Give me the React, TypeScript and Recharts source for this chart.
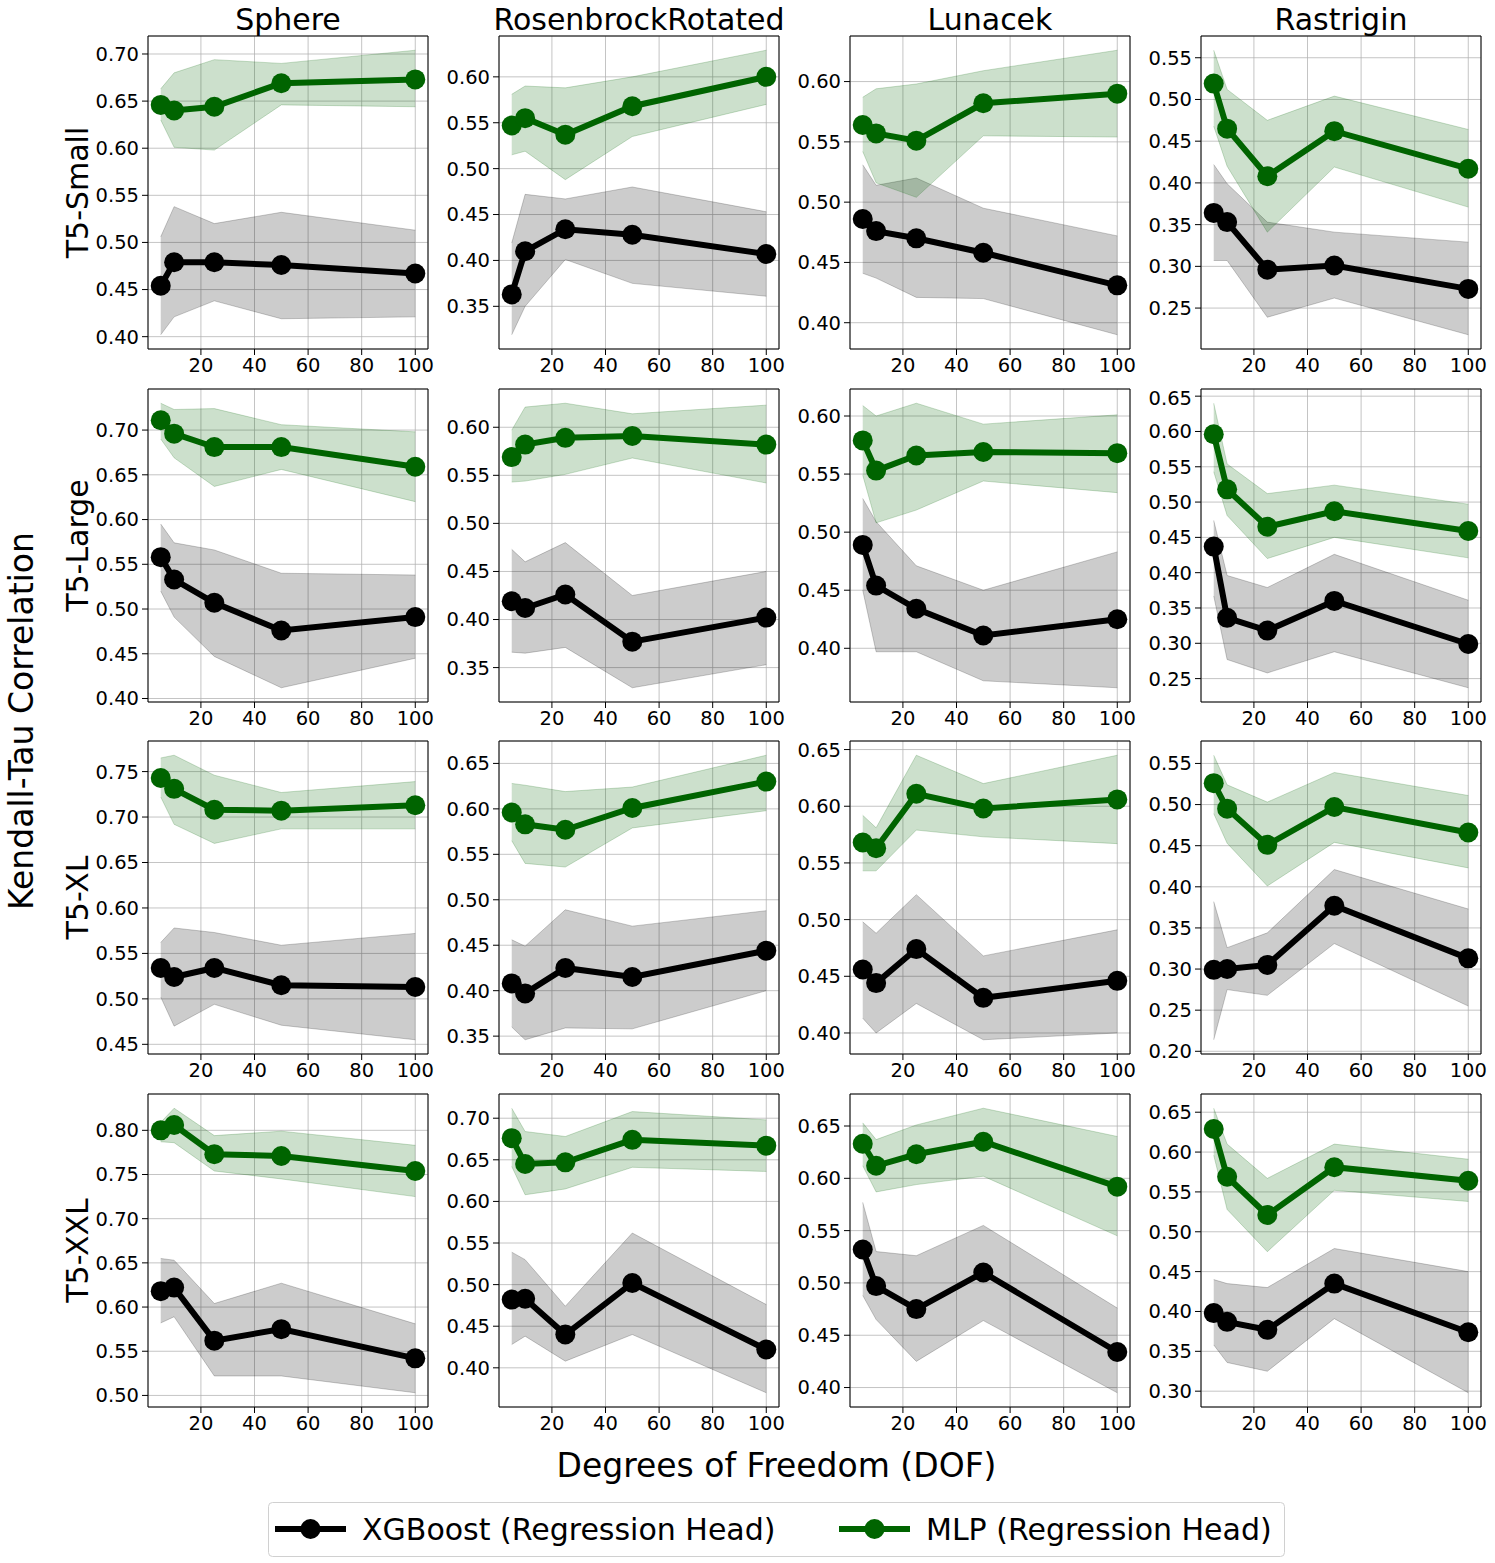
import React from "react";
import { ComposedChart, Area, Line, XAxis, YAxis, CartesianGrid, ReferenceLine } from "recharts";

const FUNCTIONS = ["Sphere", "RosenbrockRotated", "Lunacek", "Rastrigin"];
const MODELS = ["T5-Small", "T5-Large", "T5-XL", "T5-XXL"];
const DOF = [5, 10, 25, 50, 100];
const X_TICKS = [20, 40, 60, 80, 100];

// [model row][function col] -> values at each DOF
const XGB_MEAN = [
  [[0.454, 0.479, 0.479, 0.476, 0.467], [0.363, 0.41, 0.434, 0.428, 0.407], [0.486, 0.476, 0.47, 0.458, 0.431], [0.364, 0.353, 0.296, 0.301, 0.273]],
  [[0.558, 0.533, 0.507, 0.476, 0.491], [0.419, 0.412, 0.426, 0.377, 0.402], [0.489, 0.454, 0.434, 0.411, 0.425], [0.437, 0.336, 0.318, 0.36, 0.299]],
  [[0.534, 0.524, 0.534, 0.515, 0.513], [0.408, 0.397, 0.425, 0.415, 0.444], [0.456, 0.444, 0.474, 0.431, 0.446], [0.299, 0.3, 0.305, 0.377, 0.313]],
  [[0.618, 0.622, 0.562, 0.575, 0.542], [0.482, 0.483, 0.44, 0.502, 0.422], [0.532, 0.497, 0.475, 0.51, 0.434], [0.398, 0.387, 0.377, 0.435, 0.374]],
];
const XGB_LOW = [
  [[0.402, 0.421, 0.438, 0.419, 0.421], [0.319, 0.35, 0.401, 0.375, 0.361], [0.441, 0.437, 0.421, 0.42, 0.39], [0.307, 0.307, 0.239, 0.262, 0.218]],
  [[0.52, 0.491, 0.447, 0.412, 0.445], [0.366, 0.365, 0.371, 0.329, 0.353], [0.45, 0.397, 0.397, 0.372, 0.366], [0.367, 0.277, 0.258, 0.288, 0.237]],
  [[0.502, 0.47, 0.494, 0.471, 0.455], [0.36, 0.346, 0.359, 0.358, 0.4], [0.413, 0.4, 0.426, 0.394, 0.4], [0.214, 0.275, 0.268, 0.331, 0.255]],
  [[0.582, 0.589, 0.522, 0.522, 0.503], [0.428, 0.438, 0.408, 0.44, 0.37], [0.488, 0.465, 0.425, 0.464, 0.395], [0.358, 0.336, 0.325, 0.391, 0.298]],
];
const XGB_HIGH = [
  [[0.506, 0.538, 0.52, 0.532, 0.513], [0.419, 0.472, 0.467, 0.48, 0.453], [0.531, 0.514, 0.52, 0.495, 0.472], [0.422, 0.399, 0.353, 0.341, 0.329]],
  [[0.595, 0.574, 0.566, 0.54, 0.538], [0.473, 0.46, 0.48, 0.425, 0.45], [0.529, 0.509, 0.471, 0.45, 0.483], [0.474, 0.396, 0.379, 0.426, 0.361]],
  [[0.562, 0.578, 0.573, 0.559, 0.572], [0.456, 0.449, 0.489, 0.471, 0.488], [0.498, 0.488, 0.522, 0.468, 0.491], [0.382, 0.326, 0.344, 0.421, 0.373]],
  [[0.655, 0.653, 0.604, 0.627, 0.581], [0.539, 0.53, 0.474, 0.562, 0.476], [0.577, 0.53, 0.526, 0.555, 0.476], [0.44, 0.435, 0.43, 0.479, 0.45]],
];
const MLP_MEAN = [
  [[0.646, 0.64, 0.644, 0.669, 0.673], [0.547, 0.555, 0.537, 0.568, 0.6], [0.564, 0.557, 0.551, 0.582, 0.59], [0.519, 0.465, 0.408, 0.462, 0.417]],
  [[0.711, 0.696, 0.681, 0.681, 0.659], [0.569, 0.582, 0.589, 0.591, 0.582], [0.579, 0.553, 0.566, 0.569, 0.568], [0.596, 0.518, 0.465, 0.487, 0.459]],
  [[0.743, 0.731, 0.708, 0.707, 0.713], [0.596, 0.583, 0.577, 0.601, 0.63], [0.568, 0.563, 0.611, 0.598, 0.606], [0.526, 0.495, 0.451, 0.497, 0.466]],
  [[0.8, 0.806, 0.773, 0.771, 0.754], [0.676, 0.645, 0.647, 0.674, 0.667], [0.633, 0.612, 0.623, 0.635, 0.592], [0.629, 0.569, 0.521, 0.581, 0.564]],
];
const MLP_LOW = [
  [[0.63, 0.601, 0.598, 0.646, 0.644], [0.515, 0.519, 0.488, 0.535, 0.57], [0.542, 0.516, 0.504, 0.555, 0.554], [0.468, 0.42, 0.341, 0.419, 0.371]],
  [[0.69, 0.669, 0.637, 0.656, 0.62], [0.543, 0.544, 0.551, 0.568, 0.542], [0.549, 0.508, 0.519, 0.544, 0.534], [0.543, 0.481, 0.42, 0.45, 0.421]],
  [[0.722, 0.692, 0.671, 0.687, 0.687], [0.565, 0.54, 0.536, 0.579, 0.598], [0.543, 0.543, 0.579, 0.573, 0.567], [0.489, 0.453, 0.401, 0.454, 0.423]],
  [[0.787, 0.786, 0.754, 0.745, 0.725], [0.642, 0.608, 0.615, 0.641, 0.636], [0.612, 0.587, 0.594, 0.602, 0.545], [0.596, 0.528, 0.475, 0.552, 0.538]],
];
const MLP_HIGH = [
  [[0.663, 0.68, 0.694, 0.69, 0.704], [0.581, 0.59, 0.588, 0.6, 0.629], [0.587, 0.594, 0.598, 0.609, 0.626], [0.559, 0.512, 0.475, 0.504, 0.464]],
  [[0.73, 0.723, 0.724, 0.706, 0.698], [0.597, 0.621, 0.625, 0.614, 0.623], [0.609, 0.6, 0.611, 0.593, 0.601], [0.64, 0.554, 0.512, 0.524, 0.497]],
  [[0.765, 0.768, 0.746, 0.727, 0.739], [0.628, 0.626, 0.619, 0.624, 0.659], [0.592, 0.581, 0.645, 0.62, 0.645], [0.56, 0.524, 0.503, 0.539, 0.511]],
  [[0.809, 0.825, 0.794, 0.799, 0.783], [0.712, 0.684, 0.678, 0.708, 0.698], [0.653, 0.637, 0.651, 0.667, 0.64], [0.655, 0.61, 0.567, 0.61, 0.591]],
];

const Y_TICKS = [
  [[0.4, 0.45, 0.5, 0.55, 0.6, 0.65, 0.7], [0.35, 0.4, 0.45, 0.5, 0.55, 0.6], [0.4, 0.45, 0.5, 0.55, 0.6], [0.25, 0.3, 0.35, 0.4, 0.45, 0.5, 0.55]],
  [[0.4, 0.45, 0.5, 0.55, 0.6, 0.65, 0.7], [0.35, 0.4, 0.45, 0.5, 0.55, 0.6], [0.4, 0.45, 0.5, 0.55, 0.6], [0.25, 0.3, 0.35, 0.4, 0.45, 0.5, 0.55, 0.6, 0.65]],
  [[0.45, 0.5, 0.55, 0.6, 0.65, 0.7, 0.75], [0.35, 0.4, 0.45, 0.5, 0.55, 0.6, 0.65], [0.4, 0.45, 0.5, 0.55, 0.6, 0.65], [0.2, 0.25, 0.3, 0.35, 0.4, 0.45, 0.5, 0.55]],
  [[0.5, 0.55, 0.6, 0.65, 0.7, 0.75, 0.8], [0.4, 0.45, 0.5, 0.55, 0.6, 0.65, 0.7], [0.4, 0.45, 0.5, 0.55, 0.6, 0.65], [0.3, 0.35, 0.4, 0.45, 0.5, 0.55, 0.6, 0.65]],
];

const FONT = "'DejaVu Sans', sans-serif";
const XGB_COLOR = "#000000";
const MLP_COLOR = "#006400";
const PLOT_W = 280;
const PLOT_H = 313;
const Y_AXIS_W = 80;
const X_AXIS_H = 40;
const PAD = 2;
const PAD_RIGHT = 30;
const COL_X = [148, 499, 850, 1201];
const ROW_Y = [36, 389, 741, 1094];

// matplotlib-style 5% margins
const X_DOMAIN = [DOF[0] - 0.05 * (DOF[4] - DOF[0]), DOF[4] + 0.05 * (DOF[4] - DOF[0])];

function yDomain(r: number, c: number) {
  const all = [...XGB_LOW[r][c], ...XGB_HIGH[r][c], ...MLP_LOW[r][c], ...MLP_HIGH[r][c], ...XGB_MEAN[r][c], ...MLP_MEAN[r][c]];
  const lo = Math.min(...all);
  const hi = Math.max(...all);
  const m = (hi - lo) * 0.05;
  return [lo - m, hi + m];
}

function Panel({ r, c }: { r: number; c: number }) {
  const rows = DOF.map((d, i) => ({
    dof: d,
    xgb: XGB_MEAN[r][c][i],
    xgbBand: [XGB_LOW[r][c][i], XGB_HIGH[r][c][i]],
    mlp: MLP_MEAN[r][c][i],
    mlpBand: [MLP_LOW[r][c][i], MLP_HIGH[r][c][i]],
  }));
  const dom = yDomain(r, c);
  const tickStyle = { fontSize: 19.5, fill: "#000", fontFamily: FONT };
  return (
    <div style={{ position: "absolute", left: COL_X[c] - Y_AXIS_W, top: ROW_Y[r] - PAD }}>
      <ComposedChart
        width={Y_AXIS_W + PLOT_W + PAD_RIGHT}
        height={PAD + PLOT_H + X_AXIS_H}
        data={rows}
        margin={{ top: PAD, right: PAD_RIGHT, left: 0, bottom: 0 }}
      >
        <CartesianGrid stroke="#b0b0b0" strokeOpacity={0.75} strokeWidth={1} />
        <XAxis
          type="number"
          dataKey="dof"
          domain={X_DOMAIN}
          ticks={X_TICKS}
          allowDataOverflow
          height={X_AXIS_H}
          tickSize={6}
          tickMargin={3}
          tick={tickStyle}
          stroke="#000"
        />
        <YAxis
          type="number"
          domain={dom}
          ticks={Y_TICKS[r][c]}
          allowDataOverflow
          width={Y_AXIS_W}
          tickSize={6}
          tickMargin={3}
          tick={tickStyle}
          tickFormatter={(v: number) => v.toFixed(2)}
          stroke="#000"
        />
        <Area type="linear" dataKey="xgbBand" fill={XGB_COLOR} fillOpacity={0.2} stroke={XGB_COLOR} strokeOpacity={0.2} strokeWidth={1} dot={false} activeDot={false} isAnimationActive={false} />
        <Area type="linear" dataKey="mlpBand" fill={MLP_COLOR} fillOpacity={0.2} stroke={MLP_COLOR} strokeOpacity={0.2} strokeWidth={1} dot={false} activeDot={false} isAnimationActive={false} />
        <Line type="linear" dataKey="xgb" stroke={XGB_COLOR} strokeWidth={6} dot={{ r: 10, fill: XGB_COLOR, stroke: "none" }} activeDot={false} isAnimationActive={false} />
        <Line type="linear" dataKey="mlp" stroke={MLP_COLOR} strokeWidth={6} dot={{ r: 10, fill: MLP_COLOR, stroke: "none" }} activeDot={false} isAnimationActive={false} />
        <ReferenceLine x={X_DOMAIN[1]} stroke="#000" strokeWidth={1} />
        <ReferenceLine y={dom[1]} stroke="#000" strokeWidth={1} />
      </ComposedChart>
    </div>
  );
}

function LegendItem({ x, color, label }: { x: number; color: string; label: string }) {
  return (
    <g>
      <line x1={x} y1={1529} x2={x + 71} y2={1529} stroke={color} strokeWidth={6} />
      <circle cx={x + 35.5} cy={1529} r={10} fill={color} />
      <text x={x + 87} y={1540} fontSize={30} fontFamily={FONT} fill="#000">{label}</text>
    </g>
  );
}

export default function App() {
  return (
    <div style={{ position: "absolute", left: 0, top: 0, width: 1495, height: 1563, background: "#fff" }}>
      {MODELS.map((_, r) => FUNCTIONS.map((__, c) => <Panel key={`${r}-${c}`} r={r} c={c} />))}
      <svg width={1495} height={1563} style={{ position: "absolute", left: 0, top: 0, pointerEvents: "none" }}>
        {FUNCTIONS.map((f, c) => (
          <text key={f} x={COL_X[c] + PLOT_W / 2} y={30} textAnchor="middle" fontSize={30} fontFamily={FONT} fill="#000">{f}</text>
        ))}
        {MODELS.map((m, r) => (
          <text key={m} transform={`translate(88, ${ROW_Y[r] + PLOT_H / 2}) rotate(-90)`} textAnchor="middle" fontSize={30} fontFamily={FONT} fill="#000">{m}</text>
        ))}
        <text transform="translate(33, 721) rotate(-90)" textAnchor="middle" fontSize={33} fontFamily={FONT} fill="#000">Kendall-Tau Correlation</text>
        <text x={776.5} y={1477} textAnchor="middle" fontSize={33} fontFamily={FONT} fill="#000">Degrees of Freedom (DOF)</text>
        <rect x={268.5} y={1502.5} width={1016} height={54} rx={4} fill="#fff" stroke="#d0d0d0" strokeWidth={1} />
        <LegendItem x={275} color={XGB_COLOR} label="XGBoost (Regression Head)" />
        <LegendItem x={839} color={MLP_COLOR} label="MLP (Regression Head)" />
      </svg>
    </div>
  );
}
